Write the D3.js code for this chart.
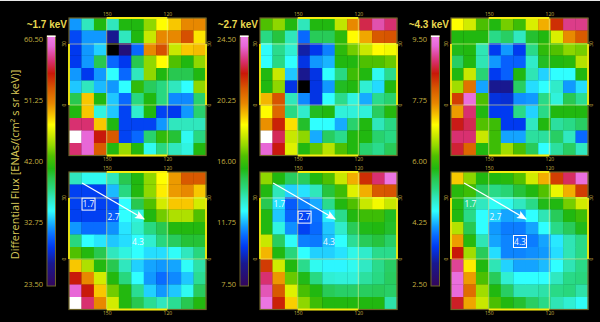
<!DOCTYPE html>
<html>
<head>
<meta charset="utf-8">
<script src="https://cdn.jsdelivr.net/npm/d3@7"></script>
<style>
  html, body { margin: 0; padding: 0; background: #000; }
  svg { display: block; }
</style>
</head>
<body>
<script>
// energy bands, colourbar ranges
const bandLabels = ["~1.7 keV", "~2.7 keV", "~4.3 keV"]
const barLow = [23.5, 7.5, 2.5]
const barHigh = [60.5, 24.5, 9.5]
const barTicks = [
  ["60.50", "51.25", "42.00", "32.75", "23.50"],
  ["24.50", "20.25", "16.00", "11.75", "7.50"],
  ["9.50", "7.75", "6.00", "4.25", "2.50"]
]
const lonTicks = [150, 120]
const latTicks = [30, 0]
const lonCenters = [165, 159, 153, 147, 141, 135, 129, 123, 117, 111, 105]
const latCenters = [39, 33, 27, 21, 15, 9, 3, -3, -9, -15, -21]
const boxLabels = ["1.7", "2.7", "4.3"]
const labelLon = [159, 146.6, 134.5]
const labelLat = [27, 20.6, 8.6]
const arrowLon = [162.2, 131.5]
const arrowLat = [37.4, 19.7]

// top row = observed maps, bottom row = model maps (flux per cell)
const obs17 = [
  [32.2,36.5,40.9,36.5,40.9,40.9,44.2,47.4,48.7,50.5,50.5],
  [29.8,32.2,32.2,26.8,36.5,40.9,45.7,50.5,50.5,53,48],
  [29.2,32.2,33.5,23,25.4,30.9,50.5,53,45.7,48.7,49],
  [29.2,32.2,39.4,30.9,29.2,39.4,44.2,47.4,42.7,40.9,44.2],
  [32.2,29.2,32.2,34.6,30.9,36.5,44.2,40.9,39.4,39.4,40.9],
  [33.3,36.5,33,32.2,34.6,41.5,39,37.9,36.5,34.6,44.2],
  [39.4,48.7,40.9,33.3,30.9,37.9,40.9,37.9,31.8,31.8,38.5],
  [40.9,48.7,35.5,33.3,29.6,36,40.9,29.6,29.2,32.2,38.5],
  [56.8,56.8,48.7,40.9,29.6,29.6,29.6,32.2,36.5,36.5,36.5],
  [62,59,55,52.7,29.6,30.9,38.5,41.5,40,35,37.9],
  [56.8,59,52.5,41,44.5,41,35,37.9,36.5,35.5,41]
]
const obs27 = [
  [16.3,17,15.5,13.5,15.5,15.5,17.6,19.9,22.5,23.4,22.8],
  [14.1,15,13.5,10.9,14.7,14.7,15.7,18.5,19.5,20.9,21],
  [12.7,14,13.2,9.3,10.1,11.2,15.7,16.7,17.7,18.5,18.3],
  [12.6,14.1,12.6,10,11.5,11.8,15.5,15.5,16.3,16.3,16.6],
  [15.5,17.7,12,9,10,12.6,14.1,16,15.5,12.8,14],
  [15.5,17,10,7,10,11.5,15.3,15.5,13.2,12.2,15.5],
  [19.3,21,13.5,11.3,10,12.6,14,13,11.7,14,14.4],
  [18.5,20.6,14.1,13.3,15.3,15.5,13.1,13.1,13.1,14.6,15.6],
  [19.8,21.8,18.8,15.2,12.6,12.6,11.7,14.4,15.5,13.5,14.1],
  [25,22.6,17.7,17,11.7,14.6,14,15.5,15.5,14.4,14.1],
  [23.8,22,18,15.5,16.5,17.5,16.3,15.5,14.4,14,14.7]
]
const obs43 = [
  [7.02,6.75,6.1,5.8,6.3,6,6.8,7.4,8.3,8.9,8.9],
  [5.8,5.8,5.8,5.2,5.4,4.95,5.65,5.8,6.8,7.6,8],
  [5.75,5.8,5,3.6,4.15,3.6,5.2,5.9,6.15,6.4,6.3],
  [5.4,5.8,5,4.15,3.85,3.85,4.9,5.7,5.8,5.85,6.6],
  [5.8,6.7,5.3,3.6,3.85,5.8,5,4.4,4.6,4.6,5.8],
  [6.5,7.8,4.2,3.13,3.13,5.4,4.45,4.6,4.9,4.15,4.45],
  [8.2,9.3,6.1,3.5,3.45,4.1,4.15,5.2,4.8,5.5,5.15],
  [7.5,8.8,5.8,3.6,3.6,5.2,4.4,5.2,5.8,5.8,5.8],
  [8.5,8.7,6.15,6,3.6,3.6,4.95,5.8,5.1,5.2,5.4],
  [8.8,8.8,6.7,6,4.2,4.2,5.1,5.1,5.4,4.95,3.9],
  [8.6,7.9,5.8,6,6.5,6.1,5.45,4.6,5.1,5.4,4.95]
]
const model17 = [
  [36.5,35,35,36.5,39.4,40.9,44.2,47.4,50,52.7,52.7],
  [29.5,29.5,29.5,33,37.9,41,44.2,47.8,50,50.5,48.7],
  [29.5,29.5,29.5,30,34.6,39.4,42.7,46,48.7,48.7,46],
  [29.5,29.5,29.5,30.5,34.6,35.5,40.9,43.5,45,45,42.7],
  [32.2,31,31,32,34,36,37.9,39.4,41,41,41],
  [38,34.6,34,33.3,33.8,34.6,36,38,39,40,40],
  [42.7,41,39.4,36.5,35.5,34.6,33.8,33.8,34.8,36.5,38],
  [48.7,45,41,39.4,36.5,33.5,32.5,32.2,32.5,34.8,37],
  [55,50.5,46,41,38,34.6,32.2,31,31.8,33.3,37.5],
  [59,55,48.7,43.5,41,37.5,33.5,32.2,33.3,35,39],
  [62,56.8,50.5,46,41,39.4,37.5,36.5,37.5,39.4,41]
]
const model27 = [
  [17,15.5,14.6,14.6,15.5,16.3,17.7,19.4,21.6,22.8,24.2],
  [15.5,13.5,12.1,12.3,13.5,15,16,18,19.4,20.9,21],
  [14.8,12.3,10.7,11.2,11.7,14,15.5,16.3,17.7,18.3,17.7],
  [15.5,12,10.8,10.3,11,12.4,14,15.5,16,16,15.3],
  [15.5,13,11.4,10.3,10.9,12,13.3,14.7,15.4,15.5,15.2],
  [17.7,14.6,12.7,11.2,11.1,11.9,12.6,13.9,14.7,15,14.5],
  [19.3,15.5,14.2,12.6,12.1,12.1,12.3,12.9,13.3,14,14],
  [21.4,17.8,15.5,14,12.8,12.5,12.5,12.8,13.4,14,14.5],
  [22.8,19.7,16.6,15.4,14.1,13.2,13.1,13.1,13.8,14.1,14.6],
  [23.5,20.9,18,16.2,15.5,14.7,14.5,14.5,14.6,14.7,14.5],
  [24.2,21.8,19,17,16,15.5,15.5,15.5,15.5,15.5,13.7]
]
const model43 = [
  [7.25,6.4,5.8,5.8,5.85,6.15,6.75,7.4,8.2,8.75,9.3],
  [5.85,6,5.4,5.2,5.3,5.6,5.8,6.15,6.9,7.4,8.2],
  [5.8,5.2,4.95,4.65,4.7,4.95,5.2,5.75,5.8,6.3,6.75],
  [5.8,5.2,4.6,4.4,4.2,4.25,4.6,5,5.45,5.8,6],
  [6.6,5.5,4.6,4.15,4,4,4.2,4.6,5.2,5.45,5.75],
  [7.5,5.85,5,4.2,4.05,3.95,4,4.2,4.5,5,5.2],
  [8.45,6.5,5.45,4.45,4.05,4.05,4.1,4.15,4.45,5,5.2],
  [8.95,7.1,5.8,5,4.4,4.2,4.2,4.3,4.6,5,5.2],
  [9.3,7.5,6.1,5.45,4.85,4.6,4.6,4.6,4.95,5.2,5.25],
  [9.25,7.85,6.5,5.8,5.4,5,5,5.05,5.2,5.25,5.05],
  [8.55,7.45,6.7,6.1,5.8,5.65,5.4,5.2,5,4.85,4.65]
]

// colourbar, fraction of range -> colour
const barFractions = [0, .01, .09, .155, .20, .235, .30, .35, .39, .43, .47, .52, .56, .60, .645, .68, .73, .79, .85, .90, .96, 1]
const barColors = ["#300860", "#300860", "#181890", "#0038f0", "#0868ff", "#1098ff", "#30ffff", "#30e8c0", "#28d880", "#28c850", "#20b810", "#50c000", "#90d800", "#c8e800", "#ffff00", "#f8c800", "#e88800", "#d85800", "#c81808", "#d83070", "#e868d8", "#f080e8"]

const svgWidth = 600
const svgHeight = 322
const gold = "#c4b040"
const panelW = 137
const panelH = 137.5

const panelLeft = [69, 260, 451]
const rowTop = [18, 172]
const barLeft = [47, 240, 431]
const barTop = 36
const barBottom = 286
const barW = 8.5

const svg = d3.select("body").append("svg")
  .attr("width", svgWidth)
  .attr("height", svgHeight)
  .style("background", "#000")

// light strip along the top edge of the picture
svg.append("rect")
  .attr("width", svgWidth).attr("height", 1)
  .attr("fill", "#e8e8e8")

const defs = svg.append("defs")
defs.append("linearGradient")
  .attr("id", "barGrad")
  .attr("x1", 0).attr("x2", 0).attr("y1", 1).attr("y2", 0)
  .selectAll("stop")
  .data(barFractions)
  .enter().append("stop")
  .attr("offset", d => d)
  .attr("stop-color", (d, i) => barColors[i])

defs.append("marker")
  .attr("id", "arrowHead")
  .attr("markerUnits", "userSpaceOnUse")
  .attr("viewBox", "0 0 10 8")
  .attr("refX", 9).attr("refY", 4)
  .attr("markerWidth", 10).attr("markerHeight", 8)
  .attr("orient", "auto")
  .append("path")
  .attr("d", "M0,0L10,4L0,8L2,4Z")
  .attr("fill", "#fff")

// scales for the map, same for every panel
const xBand = d3.scaleBand().domain(lonCenters).range([0, panelW])
const yBand = d3.scaleBand().domain(latCenters).range([0, panelH])
const xLon = d3.scaleLinear().domain([150, 120]).range([37.7, 98.3])
const yLat = d3.scaleLinear().domain([30, 0]).range([26, 87])

function drawPanel(grid, band, row) {
  const low = barLow[band]
  const high = barHigh[band]
  const color = d3.scaleLinear()
    .domain(barFractions.map(f => low + f * (high - low)))
    .range(barColors)

  const cellColor = function(v) {
    if (v > high) return "#fff"
    if (v < low) return "#000"
    return color(v)
  }

  const g = svg.append("g")
    .attr("transform", "translate(" + panelLeft[band] + "," + rowTop[row] + ")")

  g.selectAll("g.row")
    .data(grid)
    .enter().append("g")
    .attr("class", "row")
    .attr("transform", (d, i) => "translate(0," + yBand(latCenters[i]) + ")")
    .selectAll("rect")
    .data(d => d)
    .enter().append("rect")
    .attr("x", (d, i) => xBand(lonCenters[i]))
    .attr("width", xBand.bandwidth() + .3)
    .attr("height", yBand.bandwidth() + .3)
    .attr("fill", cellColor)

  // lat/lon grid lines over the cells
  g.selectAll("line.lon")
    .data(lonTicks)
    .enter().append("line")
    .attr("x1", d => xLon(d)).attr("x2", d => xLon(d))
    .attr("y1", 0).attr("y2", panelH)
    .attr("stroke", "#f4f090").attr("stroke-opacity", .6).attr("stroke-width", 1)
  g.selectAll("line.lat")
    .data(latTicks)
    .enter().append("line")
    .attr("x1", 0).attr("x2", panelW)
    .attr("y1", d => yLat(d)).attr("y2", d => yLat(d))
    .attr("stroke", "#f4f090").attr("stroke-opacity", .6).attr("stroke-width", 1)

  // dull outer frame, bright yellow where the box 150-120 / 30-0 meets it
  g.append("rect")
    .attr("width", panelW).attr("height", panelH)
    .attr("fill", "none").attr("stroke", "#6e6428").attr("stroke-width", 1.2)
  const bright = [
    [xLon(150), 0, xLon(120), 0],
    [xLon(150), panelH, xLon(120), panelH],
    [0, yLat(30), 0, yLat(0)],
    [panelW, yLat(30), panelW, yLat(0)]
  ]
  g.selectAll("line.bright")
    .data(bright)
    .enter().append("line")
    .attr("x1", d => d[0]).attr("y1", d => d[1])
    .attr("x2", d => d[2]).attr("y2", d => d[3])
    .attr("stroke", "#f6ee10").attr("stroke-width", 1.8)

  // axes, labels only
  const axisStyle = function(sel) {
    sel.select(".domain").remove()
    sel.selectAll("line").remove()
    sel.selectAll("text")
      .attr("fill", gold)
      .style("font-family", "'Open Sans'")
      .style("font-size", "5px")
  }
  const topAxis = d3.axisTop(xLon).tickValues(lonTicks).tickSize(0).tickPadding(2)
  const bottomAxis = d3.axisBottom(xLon).tickValues(lonTicks).tickSize(0).tickPadding(2)
  g.append("g").call(topAxis).call(axisStyle)
  g.append("g").attr("transform", "translate(0," + panelH + ")").call(bottomAxis).call(axisStyle)

  g.selectAll("text.latl")
    .data(latTicks)
    .enter().append("text")
    .attr("transform", d => "translate(-3," + yLat(d) + ") rotate(-90)")
    .attr("text-anchor", "middle")
    .attr("fill", gold)
    .style("font-family", "'Open Sans'")
    .style("font-size", "5px")
    .text(d => d)
  g.selectAll("text.latr")
    .data(latTicks)
    .enter().append("text")
    .attr("transform", d => "translate(" + (panelW + 5) + "," + yLat(d) + ") rotate(-90)")
    .attr("text-anchor", "middle")
    .attr("fill", gold)
    .style("font-family", "'Open Sans'")
    .style("font-size", "5px")
    .text(d => d)

  // flow arrow and energy labels only on the model row
  if (row === 1) {
    g.append("line")
      .attr("x1", xLon(arrowLon[0])).attr("y1", yLat(arrowLat[0]))
      .attr("x2", xLon(arrowLon[1])).attr("y2", yLat(arrowLat[1]))
      .attr("stroke", "#fff").attr("stroke-width", 1.3)
      .attr("marker-end", "url(#arrowHead)")

    boxLabels.forEach(function(label, i) {
      const x = xLon(labelLon[i])
      const y = yLat(labelLat[i])
      if (i === band) {
        g.append("rect")
          .attr("x", x - 6.5).attr("y", y - 6)
          .attr("width", 13).attr("height", 12)
          .attr("fill", "none").attr("stroke", "#fff").attr("stroke-width", 1)
      }
      g.append("text")
        .attr("x", x).attr("y", y)
        .attr("dy", ".36em")
        .attr("text-anchor", "middle")
        .attr("fill", "#eef8ff")
        .style("font-family", "'Open Sans'")
        .style("font-size", "8.5px")
        .text(label)
    })
  }
}

drawPanel(obs17, 0, 0)
drawPanel(obs27, 1, 0)
drawPanel(obs43, 2, 0)
drawPanel(model17, 0, 1)
drawPanel(model27, 1, 1)
drawPanel(model43, 2, 1)

// colourbars
bandLabels.forEach(function(label, band) {
  const yBar = d3.scalePoint()
    .domain(barTicks[band])
    .range([barTop + 3, barBottom - 2])

  svg.append("rect")
    .attr("x", barLeft[band]).attr("y", barTop)
    .attr("width", barW).attr("height", barBottom - barTop)
    .attr("fill", "url(#barGrad)")
    .attr("stroke", "#6e6428").attr("stroke-width", 1)
  svg.append("rect")
    .attr("x", barLeft[band]).attr("y", barTop - .5)
    .attr("width", barW).attr("height", 1.5)
    .attr("fill", "#fff")

  svg.selectAll("text.v" + band)
    .data(barTicks[band])
    .enter().append("text")
    .attr("x", barLeft[band] - 4)
    .attr("y", d => yBar(d))
    .attr("dy", ".36em")
    .attr("text-anchor", "end")
    .attr("fill", gold)
    .style("font-family", "'Open Sans'")
    .style("font-size", "7.5px")
    .text(d => d)

  svg.append("text")
    .attr("x", panelLeft[band] - 2)
    .attr("y", 27.5)
    .attr("text-anchor", "end")
    .attr("fill", "#e8d850")
    .style("font-family", "'Liberation Sans'")
    .style("font-weight", "bold")
    .style("font-size", "10px")
    .text(label)
})

svg.append("text")
  .attr("transform", "translate(18.5,164.5) rotate(-90)")
  .attr("text-anchor", "middle")
  .attr("fill", "#d8c858")
  .style("font-family", "'Open Sans'")
  .style("font-size", "11px")
  .text("Differential Flux [ENAs/(cm\u00b2 s sr keV)]")
</script>
</body>
</html>
